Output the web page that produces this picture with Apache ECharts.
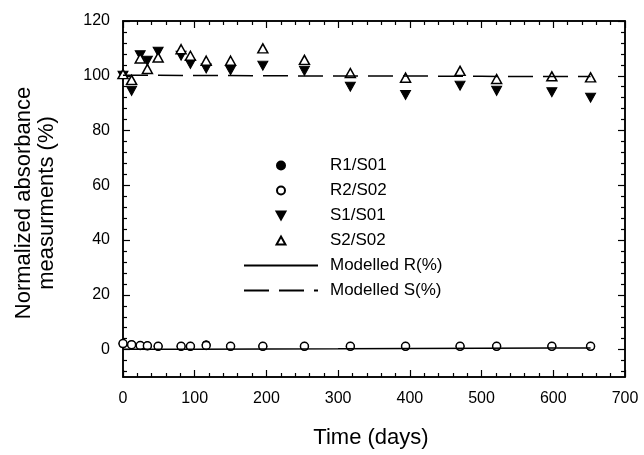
<!DOCTYPE html>
<html>
<head>
<meta charset="utf-8">
<script src="https://cdn.jsdelivr.net/npm/echarts@6/dist/echarts.min.js"></script>
<style>
  html, body { margin: 0; padding: 0; background: #fff; }
  #main { width: 644px; height: 455px; }
</style>
</head>
<body>
<div id="main"></div>
<script>
// measurement days
var days = [0, 12, 24, 34, 49, 81, 94, 116, 150, 195, 253, 317, 394, 470, 521, 598, 652];
var r1 = [2.2, 1.8, 1.5, 1.4, 1.2, 1.2, 1.2, 1.8, 1.2, 1.2, 1.2, 1.2, 1.2, 1.2, 1.2, 1.2, 1.2];
var r2 = [2.2, 1.8, 1.5, 1.4, 1.2, 1.2, 1.2, 1.5, 1.2, 1.2, 1.2, 1.2, 1.2, 1.2, 1.2, 1.2, 1.2];
var s1 = [100, 94.5, 107.5, 105.5, 108.8, 107.3, 104.3, 102.7, 102, 103.7, 101.8, 96, 93, 96.4, 94.5, 94, 92];
var s2 = [100.6, 98.5, 106.3, 102.5, 106.7, 109.7, 107.3, 105.5, 105.5, 110, 105.8, 101, 99.3, 101.8, 98.8, 99.8, 99.4];

// modelled curves
var modelDays = [0, 100, 200, 300, 400, 500, 600, 652];
var modelR = [0.1, 0.15, 0.25, 0.3, 0.4, 0.5, 0.55, 0.6];
var modelS = [100.2, 100.1, 100, 99.9, 99.9, 99.8, 99.7, 99.7];

// y tick positions
var yTicks = [0, 20, 40, 60, 80, 100, 120];
var yMinorTicks = [-8, -4, 4, 8, 12, 16, 24, 28, 32, 36, 44, 48, 52, 56, 64, 68, 72, 76, 84, 88, 92, 96, 104, 108, 112, 116];

var xTitle = 'Time (days)';
var yTitle = 'Normalized absorbance\nmeasurments (%)';

function pairs(xs, ys) {
    var out = [];
    for (var i = 0; i < xs.length; i++) out.push([xs[i], ys[i]]);
    return out;
}

var font = "'Liberation Sans', Arial, sans-serif";

function frameX(pos, extra) {
    var ax = {
        type: 'value', position: pos, min: 0, max: 700, interval: 100,
        axisLine: { show: true, onZero: false, lineStyle: { color: '#000', width: 1.5 } },
        axisTick: { show: true, inside: true, length: 7, lineStyle: { color: '#000', width: 1.2 } },
        minorTick: { show: true, splitNumber: 5, length: 4, lineStyle: { color: '#000', width: 1.2 } },
        axisLabel: { show: false },
        splitLine: { show: false }
    };
    for (var k in extra) ax[k] = extra[k];
    return ax;
}

function frameY(pos, ticks, len, showLine, extra) {
    var ax = {
        type: 'value', position: pos, min: -10, max: 120,
        axisLine: { show: showLine, onZero: false, lineStyle: { color: '#000', width: 1.5 } },
        axisTick: { show: true, inside: true, length: len, customValues: ticks, lineStyle: { color: '#000', width: 1.2 } },
        axisLabel: { show: false, customValues: ticks },
        splitLine: { show: false }
    };
    for (var k in extra) ax[k] = extra[k];
    return ax;
}

var chart = echarts.init(document.getElementById('main'));

chart.setOption({
    animation: false,
    grid: { left: 123, right: 19, top: 21, bottom: 78, show: true, borderColor: '#000', borderWidth: 1.5, backgroundColor: 'transparent' },
    graphic: [
        {
            type: 'text', x: 371, y: 438,
            style: { text: xTitle, font: '22px ' + font, fill: '#000', align: 'center', verticalAlign: 'middle' }
        },
        {
            type: 'text', x: 35, y: 203, rotation: Math.PI / 2,
            style: { text: yTitle, font: '22px ' + font, fill: '#000', align: 'center', verticalAlign: 'middle', lineHeight: 23 }
        }
    ],
    legend: {
        orient: 'vertical',
        left: 243,
        top: 157,
        itemWidth: 74,
        itemHeight: 8,
        itemGap: 8,
        padding: 0,
        textStyle: { fontFamily: font, fontSize: 17, color: '#000', lineHeight: 17, padding: [0, 0, 0, 7] },
        data: [
            'R1/S01', 'R2/S02', 'S1/S01', 'S2/S02',
            { name: 'Modelled R(%)', itemStyle: { opacity: 0 } },
            { name: 'Modelled S(%)', itemStyle: { opacity: 0 } }
        ]
    },
    xAxis: [
        frameX('bottom', {
            axisLabel: { show: true, fontFamily: font, fontSize: 16, color: '#000', margin: 14 }
        }),
        frameX('top', {})
    ],
    yAxis: [
        frameY('left', yTicks, 7, true, {
            axisLabel: { show: true, fontFamily: font, fontSize: 16, color: '#000', margin: 13, customValues: yTicks }
        }),
        frameY('left', yMinorTicks, 4, false, {}),
        frameY('right', yTicks, 7, true, {}),
        frameY('right', yMinorTicks, 4, false, {})
    ],
    series: [
        {
            name: 'Modelled R(%)', type: 'line', data: pairs(modelDays, modelR),
            symbol: 'none', color: '#000', lineStyle: { color: '#000', width: 1.5 }
        },
        {
            name: 'Modelled S(%)', type: 'line', data: pairs(modelDays, modelS),
            symbol: 'none', color: '#000', lineStyle: { color: '#000', width: 1.5, type: [25, 10] }
        },
        {
            name: 'R1/S01', type: 'scatter', data: pairs(days, r1), clip: false,
            symbol: 'circle', symbolSize: 8,
            itemStyle: { color: '#000', borderColor: '#000', borderWidth: 1, opacity: 1 }
        },
        {
            name: 'R2/S02', type: 'scatter', data: pairs(days, r2), clip: false,
            symbol: 'circle', symbolSize: 8,
            itemStyle: { color: '#fff', borderColor: '#000', borderWidth: 1.5, opacity: 1 }
        },
        {
            name: 'S1/S01', type: 'scatter', data: pairs(days, s1), clip: false,
            symbol: 'path://M0,0L10,0L5,9Z', symbolSize: [10, 9],
            itemStyle: { color: '#000', borderColor: '#000', borderWidth: 1, opacity: 1 }
        },
        {
            name: 'S2/S02', type: 'scatter', data: pairs(days, s2), clip: false,
            symbol: 'path://M5,0L10,9L0,9Z', symbolSize: [10, 9],
            itemStyle: { color: '#fff', borderColor: '#000', borderWidth: 1.5, opacity: 1 }
        }
    ]
});
</script>
</body>
</html>
